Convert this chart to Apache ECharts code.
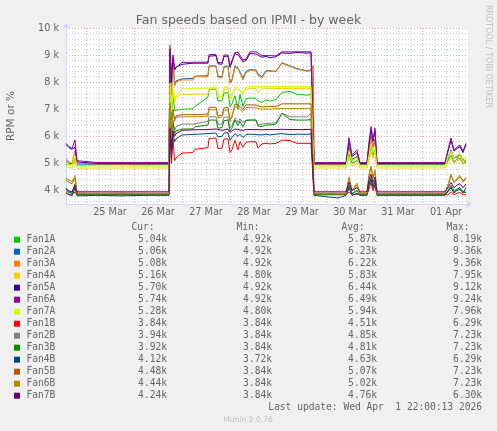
<!DOCTYPE html>
<html>
<head>
<meta charset="utf-8">
<title>Fan speeds based on IPMI - by week</title>
<script src="https://cdn.jsdelivr.net/npm/echarts@6/dist/echarts.min.js"></script>
<style>
html, body { margin: 0; padding: 0; background: #f0f0f0; }
#chart { width: 497px; height: 431px; }
</style>
</head>
<body>
<div id="chart"></div>
<script>
// time of each sample, hours since 24 Mar 00:00
var hours = [14, 15.5, 17, 18.5, 19.5, 20.5, 30, 42, 54, 65.5,
    66, 66.7, 67.5, 68.3, 69, 72, 77.5, 78.5, 85, 85.5,
    89, 90, 92, 93, 95, 96, 97, 98.5, 100, 101,
    102.5, 104, 106, 109, 110, 112, 114, 116, 119, 122,
    126, 129.5, 134.5, 136.5, 137.5, 138, 150, 154, 155.5, 157,
    159.5, 161, 164.5, 165.5, 166.5, 167.5, 168.5, 169.5, 185, 203.5,
    205, 206.5, 208, 209.5, 211, 212.5, 214];

var fan1A = [4980, 4950, 4930, 5100, 4930, 4950, 4950, 4950, 4940, 4950,
    8190, 6600, 7600, 6950, 7000,
    7000, 7020, 7100, 7450, 7720, 7740, 7300, 7320, 7600, 7620, 7100, 7200, 7500, 7000, 7550,
    7100, 7380, 7420, 7400, 7300, 7250, 7350, 7300, 7360, 7620, 7660, 7550, 7520, 7550, 7600,
    4950, 4940, 4950, 5350, 5000, 5100, 4950, 4950, 5250, 5650, 5300, 5550, 4950,
    4950, 4950, 5100, 5300, 5050, 5150, 5200, 5000, 5040];
var fan2A = [5100, 5000, 4990, 5200, 4980, 4970, 4970, 4960, 4970, 4970,
    9360, 7600, 8900, 7900, 8050,
    8120, 8140, 8220, 8240, 8600, 8600, 8220, 8200, 8580, 8600, 8000, 8100, 8600, 8520, 8550,
    8150, 8400, 8460, 8450, 8300, 8200, 8420, 8420, 8400, 8720, 8600, 8500, 8420, 8450, 8600,
    4970, 4970, 4970, 5600, 5150, 5250, 4970, 4970, 5500, 6000, 5600, 5900, 4970,
    4970, 4970, 5200, 5500, 5200, 5250, 5350, 5150, 5060];
var fan3A = [5200, 5050, 5000, 5450, 5000, 4960, 4980, 4970, 4980, 4980,
    9360, 7500, 8800, 7850, 8000,
    8080, 8080, 8200, 8200, 8570, 8570, 8170, 8150, 8550, 8570, 7950, 8050, 8550, 8500, 8500,
    8080, 8350, 8430, 8420, 8250, 8140, 8400, 8400, 8380, 8700, 8580, 8480, 8400, 8420, 8620,
    4980, 4970, 4980, 5550, 5120, 5220, 4980, 4980, 5450, 5950, 5550, 5850, 4980,
    4980, 4980, 5200, 5450, 5200, 5200, 5300, 5100, 5080];
var fan4A = [4950, 4850, 4820, 5100, 4820, 4830, 4830, 4830, 4830, 4830,
    7950, 6900, 7700, 7250, 7450,
    7550, 7550, 7560, 7560, 7750, 7750, 7450, 7450, 7740, 7750, 7400, 7450, 7750, 7720, 7750,
    7600, 7740, 7760, 7760, 7620, 7750, 7760, 7760, 7760, 7760, 7760, 7760, 7760, 7760, 7760,
    4830, 4830, 4830, 5200, 4900, 5000, 4830, 4830, 5100, 5450, 5200, 5400, 4830,
    4830, 4830, 5000, 5200, 5000, 5100, 5150, 4950, 5160];
var fan5A = [5700, 5580, 5520, 5600, 5050, 5000, 5000, 5000, 5000, 5000,
    9120, 8000, 8900, 8450, 8550,
    8660, 8700, 8680, 8700, 8960, 8980, 8680, 8660, 8950, 8960, 8550, 8600, 9050, 9020, 9060,
    8750, 8800, 9060, 9040, 9080, 8920, 8950, 8900, 8940, 9080, 9060, 9100, 9070, 9090, 9050,
    5000, 5000, 5000, 5800, 5250, 5400, 5000, 5000, 5700, 6250, 5800, 6200, 5000,
    5000, 5000, 5450, 5850, 5450, 5550, 5620, 5400, 5700];
var fan6A = [5740, 5620, 5550, 5860, 5100, 5030, 5030, 5030, 5030, 5030,
    9240, 8300, 9000, 8500, 8570,
    8730, 8730, 8740, 8740, 9020, 9020, 8720, 8720, 9000, 9000, 8600, 8620, 9100, 9100, 9080,
    8820, 8850, 9120, 9120, 9120, 8980, 8980, 8980, 8970, 9120, 9120, 9120, 9120, 9120, 9100,
    5030, 5030, 5030, 5950, 5300, 5500, 5030, 5030, 5800, 6360, 5900, 6300, 5030,
    5030, 5030, 5500, 5940, 5500, 5600, 5680, 5450, 5740];
var fan7A = [5000, 4950, 4920, 5250, 4900, 4900, 4900, 4900, 4900, 4900,
    7960, 7000, 7800, 7300, 7500,
    7750, 7770, 7770, 7780, 7830, 7830, 7480, 7500, 7820, 7830, 7350, 7500, 7830, 7800, 7830,
    7550, 7820, 7840, 7830, 7840, 7830, 7840, 7830, 7840, 7840, 7840, 7830, 7840, 7830, 7840,
    4900, 4900, 4900, 5450, 5100, 5200, 4900, 4900, 5300, 5700, 5400, 5600, 4900,
    4900, 4900, 5250, 5450, 5200, 5300, 5350, 5150, 5280];
var fan1B = [3900, 3840, 3840, 3950, 3840, 3840, 3840, 3840, 3840, 3840,
    6290, 5000, 5900, 5100, 5200,
    5380, 5400, 5520, 5580, 5920, 5930, 5550, 5560, 5900, 5900, 5400, 5500, 5850, 5500, 5800,
    5600, 5780, 5800, 5800, 5560, 5720, 5740, 5720, 5740, 5860, 5840, 5740, 5740, 5740, 5760,
    3840, 3840, 3840, 3950, 3840, 3860, 3840, 3840, 4050, 4300, 4000, 4200, 3840,
    3840, 3840, 3840, 3950, 3840, 3900, 3920, 3840, 3840];
var fan2B = [4000, 3920, 3880, 4150, 3870, 3880, 3880, 3880, 3880, 3880,
    7230, 5600, 6600, 6200, 6350,
    6450, 6450, 6500, 6550, 6720, 6720, 6450, 6450, 6700, 6720, 6300, 6400, 6680, 6500, 6650,
    6500, 6600, 6600, 6600, 6420, 6450, 6480, 6480, 6500, 6850, 6720, 6720, 6720, 6850, 6850,
    3880, 3880, 3880, 4200, 3900, 4000, 3880, 3880, 4300, 4500, 4200, 4400, 3880,
    3880, 3880, 4000, 4200, 4000, 4050, 4100, 3950, 3940];
var fan3B = [4100, 3950, 3900, 4250, 3860, 3860, 3860, 3860, 3860, 3860,
    7230, 5500, 6500, 6100, 6200,
    6270, 6270, 6350, 6420, 6600, 6600, 6300, 6320, 6580, 6600, 6200, 6300, 6600, 6400, 6550,
    6350, 6580, 6600, 6600, 6380, 6360, 6420, 6420, 6450, 6850, 6620, 6600, 6600, 6620, 6650,
    3860, 3860, 3860, 4150, 3880, 3980, 3860, 3860, 4250, 4450, 4150, 4350, 3860,
    3860, 3860, 3980, 4150, 3950, 4050, 4100, 3950, 3920];
var fan4B = [3950, 3850, 3800, 4100, 3800, 3820, 3820, 3800, 3820, 3820,
    6290, 5200, 6100, 5800, 5900,
    6050, 6070, 6100, 6100, 6130, 6120, 5980, 6000, 6120, 6130, 5850, 5950, 6100, 6000, 6080,
    5950, 6060, 6080, 6060, 6000, 6050, 6080, 6050, 6080, 6100, 6060, 6080, 6070, 6100, 6080,
    3820, 3720, 3820, 4100, 3820, 3900, 3820, 3820, 4200, 4400, 4100, 4300, 3820,
    3820, 3820, 3950, 4100, 3900, 4000, 4050, 3900, 4120];
var fan5B = [4400, 4300, 4250, 4450, 3900, 3900, 3900, 3900, 3900, 3900,
    7230, 6000, 7000, 6600, 6750,
    6800, 6800, 6820, 6820, 7070, 7070, 6750, 6780, 7050, 7070, 6600, 6700, 7200, 7150, 7200,
    7000, 7160, 7160, 7150, 7100, 7080, 7100, 7100, 7100, 7200, 7200, 7200, 7200, 7200, 7220,
    3900, 3900, 3900, 4450, 3980, 4200, 3900, 3900, 4550, 4850, 4450, 4700, 3900,
    3900, 3900, 4200, 4550, 4300, 4400, 4500, 4350, 4480];
var fan6B = [4450, 4380, 4330, 4550, 3900, 3880, 3880, 3900, 3880, 3880,
    7230, 5900, 6950, 6550, 6700,
    6720, 6720, 6740, 6740, 6980, 6980, 6680, 6700, 6960, 6980, 6550, 6620, 7100, 7050, 7100,
    6920, 7060, 7060, 7050, 7020, 7000, 7020, 7000, 7020, 7030, 7030, 7030, 7030, 7030, 7050,
    3880, 3880, 3880, 4500, 4000, 4270, 3880, 3880, 4600, 4900, 4500, 4750, 3880,
    3880, 3880, 4200, 4600, 4300, 4450, 4550, 4300, 4440];
var fan7B = [4050, 3980, 3950, 4180, 3950, 3950, 3950, 3950, 3950, 3950,
    6300, 5500, 6200, 6000, 6100,
    6220, 6240, 6250, 6250, 6270, 6270, 6200, 6220, 6260, 6270, 6150, 6200, 6270, 6250, 6270,
    6220, 6250, 6250, 6250, 6250, 6240, 6250, 6250, 6250, 6260, 6250, 6250, 6250, 6260, 6260,
    3950, 3950, 3950, 4300, 4000, 4100, 3950, 3950, 4400, 4600, 4300, 4500, 3950,
    3950, 3950, 4100, 4300, 4100, 4200, 4250, 4100, 4240];

var fanNames = ['Fan1A', 'Fan2A', 'Fan3A', 'Fan4A', 'Fan5A', 'Fan6A', 'Fan7A',
    'Fan1B', 'Fan2B', 'Fan3B', 'Fan4B', 'Fan5B', 'Fan6B', 'Fan7B'];
var fanColors = ['#00cc00', '#0066b3', '#ff8000', '#ffcc00', '#330099', '#990099', '#ccff00',
    '#ff0000', '#808080', '#008f00', '#00487d', '#b35a00', '#b38f00', '#6b006b'];
var fanValues = [fan1A, fan2A, fan3A, fan4A, fan5A, fan6A, fan7A,
    fan1B, fan2B, fan3B, fan4B, fan5B, fan6B, fan7B];

var curText = ['5.04k', '5.06k', '5.08k', '5.16k', '5.70k', '5.74k', '5.28k',
    '3.84k', '3.94k', '3.92k', '4.12k', '4.48k', '4.44k', '4.24k'];
var minText = ['4.92k', '4.92k', '4.92k', '4.80k', '4.92k', '4.92k', '4.80k',
    '3.84k', '3.84k', '3.84k', '3.72k', '3.84k', '3.84k', '3.84k'];
var avgText = ['5.87k', '6.23k', '6.22k', '5.83k', '6.44k', '6.49k', '5.94k',
    '4.51k', '4.85k', '4.81k', '4.63k', '5.07k', '5.02k', '4.76k'];
var maxText = ['8.19k', '9.36k', '9.36k', '7.95k', '9.12k', '9.24k', '7.96k',
    '6.29k', '7.23k', '7.23k', '6.29k', '7.23k', '7.23k', '6.30k'];

// axis ticks
var dayLabelHours = [36, 60, 84, 108, 132, 156, 180, 204];
var dayLabels = ['25 Mar', '26 Mar', '27 Mar', '28 Mar', '29 Mar', '30 Mar', '31 Mar', '01 Apr'];
var midnightHours = [24, 48, 72, 96, 120, 144, 168, 192];
var sixHourTicks = [18, 30, 36, 42, 54, 60, 66, 78, 84, 90, 102, 108, 114, 126, 132, 138,
    150, 156, 162, 174, 180, 186, 198, 204, 210];
var rpmMajor = [4000, 5000, 6000, 7000, 8000, 9000, 10000];
var rpmMinor = [3600, 3800, 4200, 4400, 4600, 4800, 5200, 5400, 5600, 5800, 6200, 6400, 6600, 6800,
    7200, 7400, 7600, 7800, 8200, 8400, 8600, 8800, 9200, 9400, 9600, 9800];

(function () {
    var font = 'DejaVu Sans';
    var mono = 'DejaVu Sans Mono';
    var fontColor = '#666666';
    var axisColor = '#cfd6f8';
    var gridGray = '#cdcdcd';
    var gridRed = '#f0a8a8';

    var chart = echarts.init(document.getElementById('chart'), null, { renderer: 'canvas' });

    var series = fanNames.map(function (name, i) {
        return {
            name: name,
            type: 'line',
            showSymbol: false,
            symbol: 'none',
            silent: true,
            lineStyle: { width: 1, color: fanColors[i] },
            data: hours.map(function (h, j) { return [h, fanValues[i][j]]; })
        };
    });

    // legend table below the plot
    var graphics = [];
    var rowTop = 239.7, rowStep = 12;
    var cols = [167, 272, 377, 482];
    var heads = ['Cur:', 'Min:', 'Avg:', 'Max:'];
    heads.forEach(function (h, k) {
        graphics.push({
            type: 'text', x: cols[k] - 12.5, y: 227.3,
            style: { text: h, font: '9.6px ' + mono, fill: fontColor, align: 'right', verticalAlign: 'middle' }
        });
    });
    fanNames.forEach(function (name, i) {
        var y = rowTop + i * rowStep;
        graphics.push({
            type: 'rect', shape: { x: 14, y: y - 3, width: 6, height: 6 },
            style: { fill: fanColors[i] }
        });
        graphics.push({
            type: 'text', x: 26.5, y: y,
            style: { text: name, font: '9.6px ' + mono, fill: fontColor, verticalAlign: 'middle' }
        });
        [curText, minText, avgText, maxText].forEach(function (arr, k) {
            graphics.push({
                type: 'text', x: cols[k], y: y,
                style: { text: arr[i], font: '9.6px ' + mono, fill: fontColor, align: 'right', verticalAlign: 'middle' }
            });
        });
    });
    graphics.push({
        type: 'text', x: 482, y: 407.7,
        style: { text: 'Last update: Wed Apr  1 22:00:13 2026', font: '9.6px ' + mono, fill: fontColor,
            align: 'right', verticalAlign: 'middle' }
    });
    graphics.push({
        type: 'text', x: 248, y: 420,
        style: { text: 'Munin 2.0.76', font: '7.6px ' + font, fill: '#c0c0c0', align: 'center', verticalAlign: 'middle' }
    });
    graphics.push({
        type: 'text', x: 488, y: 5, rotation: -Math.PI / 2,
        style: { text: 'RRDTOOL / TOBI OETIKER', font: '8px ' + font, fill: '#c0c0c0', verticalAlign: 'middle' }
    });

    var option = {
        backgroundColor: '#f0f0f0',
        animation: false,
        color: fanColors,
        textStyle: { fontFamily: font },
        title: {
            text: 'Fan speeds based on IPMI - by week',
            left: 'center', top: 9,
            textStyle: { fontSize: 12.5, fontWeight: 'normal', color: fontColor, fontFamily: font }
        },
        grid: { left: 66, right: 29, top: 28, bottom: 227, show: true, backgroundColor: '#ffffff',
            borderWidth: 0, containLabel: false, outerBoundsMode: 'none' },
        xAxis: [{
            type: 'value', min: 14, max: 215,
            axisLine: { show: true, lineStyle: { color: axisColor, width: 1 },
                symbol: ['none', 'arrow'], symbolSize: [6, 6], symbolOffset: [0, 4] },
            axisTick: { show: false, customValues: midnightHours },
            axisLabel: {
                customValues: dayLabelHours, color: fontColor, fontSize: 9.7, margin: 3, fontFamily: font,
                formatter: function (v) { return dayLabels[dayLabelHours.indexOf(v)]; }
            },
            splitLine: { show: true, lineStyle: { color: gridRed, width: 1, type: [1, 2] } }
        }, {
            type: 'value', min: 14, max: 215,
            axisLine: { show: false },
            axisTick: { show: false, customValues: sixHourTicks },
            axisLabel: { show: false },
            splitLine: { show: true, lineStyle: { color: gridGray, width: 1, type: [1, 2] } }
        }],
        yAxis: [{
            type: 'value', min: 3500, max: 10000,
            name: 'RPM or %', nameLocation: 'middle', nameGap: 49,
            nameTextStyle: { color: fontColor, fontSize: 10.5, fontFamily: font },
            axisLine: { show: true, lineStyle: { color: axisColor, width: 1 },
                symbol: ['none', 'arrow'], symbolSize: [6, 6], symbolOffset: [0, 5] },
            axisTick: { show: false, customValues: rpmMajor },
            axisLabel: {
                customValues: rpmMajor, color: fontColor, fontSize: 9.7, margin: 7, fontFamily: font,
                formatter: function (v) { return (v / 1000) + ' k'; }
            },
            splitLine: { show: true, lineStyle: { color: gridRed, width: 1, type: [1, 2] } }
        }, {
            type: 'value', min: 3500, max: 10000,
            axisLine: { show: false },
            axisTick: { show: false, customValues: rpmMinor },
            axisLabel: { show: false },
            splitLine: { show: true, lineStyle: { color: gridGray, width: 1, type: [1, 2] } }
        }],
        series: series,
        graphic: graphics
    };
    chart.setOption(option);
})();
</script>
</body>
</html>
